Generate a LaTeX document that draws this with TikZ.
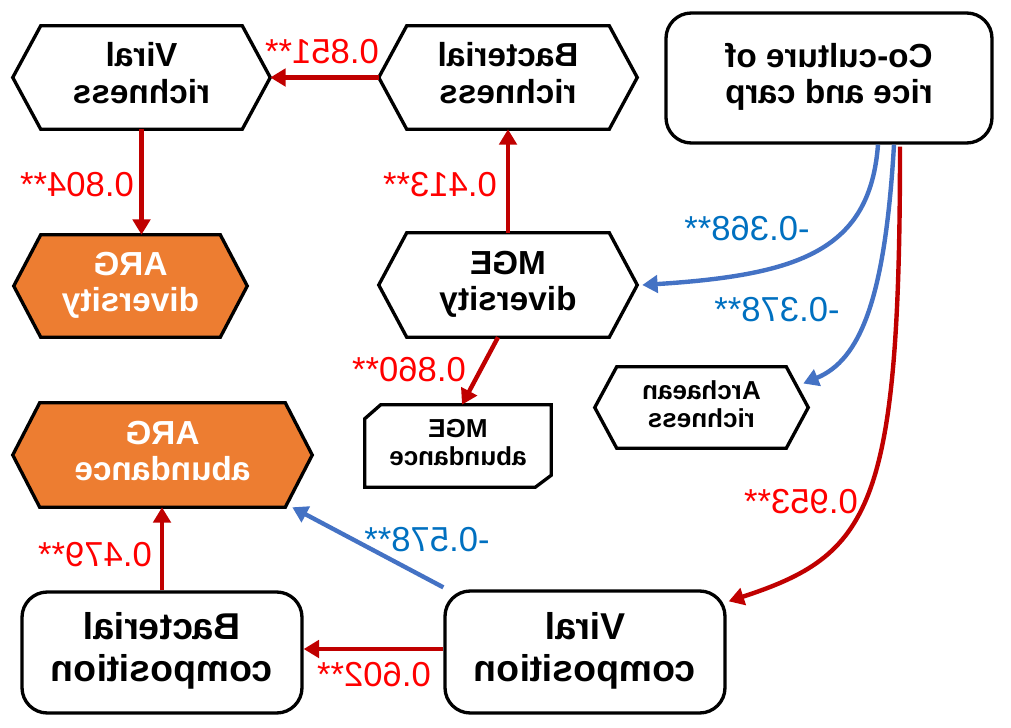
\documentclass[tikz,border=0pt]{standalone}
\usepackage{xcolor}
\usepackage{fontspec}
\setmainfont{Liberation Sans}
\usepackage{tikz}
\usetikzlibrary{arrows.meta}
\usetikzlibrary{backgrounds}

\definecolor{arrred}{RGB}{192,0,0}
\definecolor{arrblue}{RGB}{68,114,196}
\definecolor{txtred}{RGB}{255,0,0}
\definecolor{txtblue}{RGB}{0,112,192}
\definecolor{argorange}{RGB}{237,125,49}

% mirrored text, as in the figure
\newcommand{\flip}[1]{\reflectbox{\begin{tabular}{@{}c@{}}#1\end{tabular}}}
% hexagon round a rectangular node
\newcommand{\hexpath}[2]{(#1.west) -- ([shift={(#2,0)}]#1.north west) -- ([shift={(-#2,0)}]#1.north east) -- (#1.east) -- ([shift={(-#2,0)}]#1.south east) -- ([shift={(#2,0)}]#1.south west) -- cycle}

\tikzset{
	midfont/.style={font=\fontsize{25}{27.5}\selectfont\bfseries},
	bigfont/.style={font=\fontsize{28}{31.5}\selectfont\bfseries},
	smallfont/.style={font=\fontsize{19.5}{21}\selectfont\bfseries},
	numfont/.style={font=\fontsize{26}{30}\selectfont},
	roundbox/.style={draw, line width=2.5pt, rounded corners=19pt, inner sep=0pt},
	hexbox/.style={inner sep=0pt},
	outline/.style={draw=black, line width=2.5pt, line join=miter},
	posarr/.style={draw=arrred, line width=3.3pt, -{Triangle[length=11.5pt,width=13pt]}},
	negarr/.style={draw=arrblue, line width=3.3pt, -{Triangle[length=11.5pt,width=13pt]}},
	poslab/.style={numfont, text=txtred, inner sep=0pt},
	neglab/.style={numfont, text=txtblue, inner sep=0pt}
}

\begin{document}
\begin{tikzpicture}[x=0.75pt,y=0.75pt,yscale=-1,xscale=1]
	\useasboundingbox (0,0) rectangle (1011,728);
	
	% Nodes
	\node [hexbox, midfont, minimum width=192.75pt, minimum height=77.25pt] (vrich) at (141.5,77.5) {\flip{Viral\\richness}};
	\node [hexbox, midfont, minimum width=193.5pt, minimum height=77.25pt] (brich) at (508,77.5) {\flip{Bacterial\\richness}};
	\node [roundbox, midfont, minimum width=244.5pt, minimum height=97.5pt] (cocult) at (829,78) {\flip{Co-culture of\\rice and carp}};
	\node [hexbox, midfont, text=white, minimum width=174.75pt, minimum height=76.5pt] (argdiv) at (130.5,286) {\flip{ARG\\diversity}};
	\node [hexbox, midfont, minimum width=193.5pt, minimum height=78pt] (mgediv) at (508,285) {\flip{MGE\\diversity}};
	\node [hexbox, smallfont, minimum width=159.75pt, minimum height=60.75pt] (arch) at (701.5,407.5) {\flip{Archaean\\richness}};
	\node [hexbox, smallfont, minimum width=139.5pt, minimum height=61.5pt] (mgeab) at (458,446) {\flip{MGE\\abundance}};
	\node [hexbox, midfont, text=white, minimum width=224.25pt, minimum height=78pt] (argab) at (162.5,455) {\flip{ARG\\abundance}};
	\node [roundbox, bigfont, minimum width=210pt, minimum height=90.75pt] (bcomp) at (162,652.5) {\flip{Bacterial\\composition}};
	\node [roundbox, bigfont, minimum width=210pt, minimum height=91.5pt] (vcomp) at (585,652) {\flip{Viral\\composition}};
	
	% Outlines
	\begin{scope}[on background layer]
		\draw [outline, fill=white] \hexpath{vrich}{28};
		\draw [outline, fill=white] \hexpath{brich}{28};
		\draw [outline, fill=argorange] \hexpath{argdiv}{27};
		\draw [outline, fill=white] \hexpath{mgediv}{28};
		\draw [outline, fill=white] \hexpath{arch}{22};
		\draw [outline, fill=argorange] \hexpath{argab}{27};
		\draw [outline, fill=white] (mgeab.south west) -- ([shift={(0,14)}]mgeab.north west) -- ([shift={(16,0)}]mgeab.north west) -- (mgeab.north east) -- ([shift={(0,-12)}]mgeab.south east) -- ([shift={(-16,0)}]mgeab.south east) -- cycle;
	\end{scope}
	
	% Connectors
	\draw [posarr] (brich.west) -- (vrich.east);
	\draw [posarr] (vrich.south) -- (vrich.south |- argdiv.north);
	\draw [posarr] (mgediv.north) -- (brich.south);
	\draw [negarr] ([shift={(49,0)}]cocult.south) .. controls (870,250) and (800,275) .. ([shift={(5,0)}]mgediv.east);
	\draw [negarr] ([shift={(65,0)}]cocult.south) .. controls (885,300) and (860,360) .. ([shift={(-5,-24)}]arch.east);
	\draw [posarr] ([shift={(71,2)}]cocult.south) .. controls (900,510) and (870,555) .. ([shift={(2,12)}]vcomp.north east);
	\draw [posarr] ([shift={(-10,0)}]mgediv.south) -- ([shift={(4,0)}]mgeab.north);
	\draw [negarr] ([shift={(0,-2)}]vcomp.north west) -- ([shift={(-20,0)}]argab.south east);
	\draw [posarr] ([shift={(0,-3)}]vcomp.west) -- ([shift={(0,-3)}]vcomp.west -| bcomp.east);
	\draw [posarr] (bcomp.north) -- (bcomp.north |- argab.south);
	
	% Text Node
	\node [poslab] (l851) at (322,52) {\reflectbox{0.851**}};
	\node [poslab] (l804) at (77,185) {\reflectbox{0.804**}};
	\node [poslab] (l413) at (440,185) {\reflectbox{0.413**}};
	\node [neglab] (l368) at (747,229) {\reflectbox{-0.368**}};
	\node [neglab] (l378) at (777,310) {\reflectbox{-0.378**}};
	\node [poslab] (l860) at (409,370) {\reflectbox{0.860**}};
	\node [poslab] (l953) at (801,502) {\reflectbox{0.953**}};
	\node [neglab] (l578) at (427,540) {\reflectbox{-0.578**}};
	\node [poslab] (l479) at (95,555) {\reflectbox{0.479**}};
	\node [poslab] (l602) at (374,675) {\reflectbox{0.602**}};
	
\end{tikzpicture}
\end{document}
